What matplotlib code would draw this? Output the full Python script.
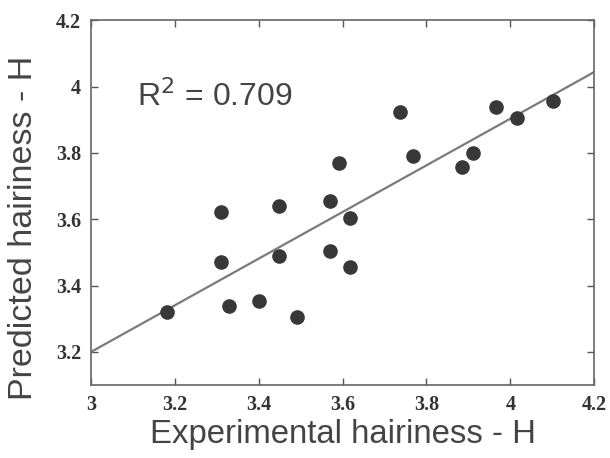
import matplotlib
matplotlib.use("Agg")
import matplotlib.pyplot as plt
import numpy as np

# experimental vs predicted hairiness
experimental = [3.181, 3.311, 3.311, 3.330, 3.401, 3.448, 3.448, 3.492, 3.571, 3.571,
                3.591, 3.619, 3.619, 3.738, 3.768, 3.884, 3.910, 3.965, 4.017, 4.102]
predicted = [3.322, 3.622, 3.470, 3.338, 3.354, 3.640, 3.489, 3.304, 3.654, 3.505,
             3.770, 3.605, 3.455, 3.923, 3.790, 3.757, 3.801, 3.938, 3.906, 3.955]

# regression line
fit_intercept = 3.2
fit_slope = 0.703
r_squared = 0.709

x_ticks = [3, 3.2, 3.4, 3.6, 3.8, 4, 4.2]
y_ticks = [3.2, 3.4, 3.6, 3.8, 4, 4.2]

fig = plt.figure(figsize=(6.1, 4.58), dpi=100)
ax = fig.add_axes([0.149, 0.159, 0.825, 0.797])

line_x = np.array([3.0, 4.2])
ax.plot(line_x, fit_intercept + fit_slope * (line_x - 3.0), color="#7a7a7a", lw=1.6, zorder=2)
ax.plot(experimental, predicted, "o", color="#383838", markersize=9.5, zorder=3)

ax.set_xlim(3, 4.2)
ax.set_ylim(3.1, 4.2)
ax.set_xticks(x_ticks)
ax.set_yticks(y_ticks)
ax.set_xticklabels([f"{t:g}" for t in x_ticks])
ax.set_yticklabels([f"{t:g}" for t in y_ticks])

ax.tick_params(direction="in", length=5, width=1, color="#555555",
               top=True, right=True, labelsize=14.5, pad=7)
for lab in ax.get_xticklabels() + ax.get_yticklabels():
    lab.set_fontfamily("Liberation Serif")
    lab.set_fontweight("bold")
    lab.set_color("#333333")

for sp in ax.spines.values():
    sp.set_color("#666666")
    sp.set_linewidth(1.2)

ax.set_xlabel("Experimental hairiness - H", fontsize=23.7, family="Liberation Sans",
              color="#444444", labelpad=3)
ax.set_ylabel("Predicted hairiness - H", fontsize=24.5, family="Liberation Sans",
              color="#444444")
# y label sits a bit below the middle of the frame
ax.yaxis.set_label_coords(-0.104, 0.43)

ax.text(0.091, 0.764, f"R$^2$ = {r_squared:.3f}", transform=ax.transAxes,
        fontsize=23, family="Liberation Sans", color="#444444",
        va="baseline", ha="left")

plt.savefig("out.png", dpi=100)
